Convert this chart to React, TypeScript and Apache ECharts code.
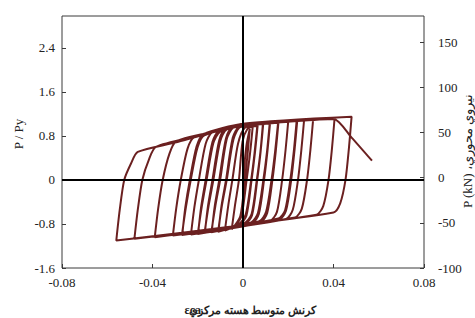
import React, { useEffect, useRef } from "react";
import * as echarts from "echarts";

type Pt = [number, number];

// Axis tick values
const xTicks = [-0.08, -0.04, 0, 0.04, 0.08];
const leftTicks = [-1.6, -0.8, 0, 0.8, 1.6, 2.4];
const rightTicks = [-100, -50, 0, 50, 100, 150];

// Hysteresis path: (average core strain εca, P/Py)
const initialLoading: Pt[] = [[0, 0], [0.0015, 0.62], [0.003, 0.93]];
const unload01: Pt[] = [[0.002, 0.46], [0.0008, 0], [-0.0012, -0.66], [-0.005, -0.9]];
const reload01: Pt[] = [[-0.0035, -0.45], [-0.0018, 0], [-0.0002, 0.7], [0.002, 0.93], [0.0043, 0.97]];
const unload02: Pt[] = [[0.0031, 0.48], [0.0016, 0], [-0.0007, -0.66], [-0.0035, -0.83], [-0.008, -0.92]];
const reload02: Pt[] = [[-0.0065, -0.46], [-0.0047, 0], [-0.0022, 0.66], [0.0008, 0.95], [0.0065, 1.0]];
const unload03: Pt[] = [[0.0053, 0.5], [0.0038, 0], [0.0015, -0.65], [-0.0015, -0.81], [-0.011, -0.94]];
const reload03b: Pt[] = [[-0.0093, -0.46], [-0.0072, 0], [-0.0042, 0.74], [-0.0012, 0.96], [0.0063, 0.98]];
const unload03b: Pt[] = [[0.0051, 0.49], [0.0036, 0], [0.0012, -0.63], [-0.0018, -0.8], [-0.0108, -0.92]];
const reload03: Pt[] = [[-0.0095, -0.47], [-0.0075, 0], [-0.0045, 0.77], [-0.0015, 0.98], [0.009, 1.04]];
const unload04: Pt[] = [[0.0078, 0.52], [0.0063, 0], [0.004, -0.64], [0.001, -0.8], [-0.014, -0.95]];
const reload04b: Pt[] = [[-0.0122, -0.47], [-0.0101, 0], [-0.0072, 0.74], [-0.0042, 0.95], [0.0088, 1.02]];
const unload04b: Pt[] = [[0.0077, 0.51], [0.0061, 0], [0.0038, -0.62], [0.0005, -0.79], [-0.0138, -0.93]];
const reload04: Pt[] = [[-0.0125, -0.48], [-0.0105, 0], [-0.0075, 0.76], [-0.0045, 0.97], [0.012, 1.05]];
const unload05: Pt[] = [[0.0108, 0.52], [0.0093, 0], [0.007, -0.62], [0.004, -0.79], [-0.017, -0.96]];
const reload05b: Pt[] = [[-0.0152, -0.47], [-0.0131, 0], [-0.0101, 0.7], [-0.0071, 0.92], [0.0118, 1.03]];
const unload05b: Pt[] = [[0.0106, 0.51], [0.009, 0], [0.0066, -0.6], [0.0036, -0.77], [-0.0168, -0.94]];
const reload05: Pt[] = [[-0.0155, -0.48], [-0.0135, 0], [-0.0105, 0.72], [-0.0075, 0.94], [0.0157, 1.06]];
const unload06: Pt[] = [[0.0145, 0.53], [0.013, 0], [0.0107, -0.6], [0.0077, -0.77], [-0.02, -0.98]];
const reload06b: Pt[] = [[-0.0182, -0.48], [-0.0161, 0], [-0.0131, 0.67], [-0.0101, 0.88], [0.0, 0.98], [0.0155, 1.04]];
const unload06b: Pt[] = [[0.0142, 0.52], [0.0126, 0], [0.0102, -0.58], [0.0072, -0.75], [-0.0198, -0.96]];
const reload06: Pt[] = [[-0.0185, -0.49], [-0.0165, 0], [-0.0135, 0.69], [-0.0105, 0.9], [0.0, 1.0], [0.02, 1.07]];
const unload07: Pt[] = [[0.0188, 0.54], [0.0173, 0], [0.015, -0.58], [0.012, -0.74], [-0.023, -0.99]];
const reload07: Pt[] = [[-0.0215, -0.5], [-0.0195, 0], [-0.0165, 0.66], [-0.0135, 0.87], [0.0, 1.01], [0.024, 1.09]];
const unload08: Pt[] = [[0.0228, 0.55], [0.0213, 0], [0.019, -0.56], [0.016, -0.72], [-0.027, -1.0]];
const reload08b: Pt[] = [[-0.0252, -0.49], [-0.0231, 0], [-0.0201, 0.59], [-0.0171, 0.81], [0.0, 1.0], [0.0237, 1.07]];
const unload08b: Pt[] = [[0.0225, 0.54], [0.0209, 0], [0.0186, -0.55], [0.0156, -0.7], [-0.0268, -0.98]];
const reload08: Pt[] = [[-0.0255, -0.5], [-0.0235, 0], [-0.0205, 0.61], [-0.0175, 0.83], [0.0, 1.02], [0.027, 1.09]];
const unload09: Pt[] = [[0.0258, 0.55], [0.0243, 0], [0.022, -0.54], [0.019, -0.71], [-0.031, -1.01]];
const reload09: Pt[] = [[-0.0295, -0.51], [-0.0275, 0], [-0.0245, 0.57], [-0.0215, 0.78], [0.0, 1.0], [0.031, 1.1]];
const unload10: Pt[] = [[0.0298, 0.55], [0.0283, 0], [0.026, -0.52], [0.023, -0.68], [-0.039, -1.04]];
const reload10: Pt[] = [[-0.0375, -0.52], [-0.0355, 0], [-0.0325, 0.48], [-0.0295, 0.7], [-0.015, 0.86], [0.0, 1.01], [0.0405, 1.13]];
const unload11: Pt[] = [[0.0393, 0.56], [0.0378, 0], [0.0355, -0.47], [0.0325, -0.63], [-0.048, -1.07]];
const reload11: Pt[] = [[-0.0465, -0.54], [-0.0445, 0], [-0.0415, 0.38], [-0.0385, 0.6], [-0.02, 0.8], [0.0, 1.02], [0.048, 1.15]];
const unload12: Pt[] = [[0.0468, 0.57], [0.0453, 0], [0.043, -0.42], [0.04, -0.59], [-0.056, -1.1]];
const finalReload: Pt[] = [[-0.0545, -0.55], [-0.0525, 0], [-0.0495, 0.3], [-0.0465, 0.51], [-0.03, 0.68], [-0.015, 0.85], [0.0, 0.99], [0.02, 1.06], [0.04, 1.11]];
const failureBranch: Pt[] = [[0.048, 0.77], [0.057, 0.35]];

const hysteresisPath: Pt[] = [
  ...initialLoading,
  ...unload01, ...reload01,
  ...unload02, ...reload02,
  ...unload03, ...reload03b, ...unload03b, ...reload03,
  ...unload04, ...reload04b, ...unload04b, ...reload04,
  ...unload05, ...reload05b, ...unload05b, ...reload05,
  ...unload06, ...reload06b, ...unload06b, ...reload06,
  ...unload07, ...reload07,
  ...unload08, ...reload08b, ...unload08b, ...reload08,
  ...unload09, ...reload09,
  ...unload10, ...reload10,
  ...unload11, ...reload11,
  ...unload12, ...finalReload,
  ...failureBranch,
];

// Bottom title "كرنش متوسط هسته مركزي، εca" laid out right to left (εca at the left end)
const xTitlePersian = "كرنش متوسط هسته مركزي";
const xTitleComma = "،";
const xTitleSymbol = "εca";
const leftTitle = "P / Py";
const rightTitle = "\u200EP (kN) ،\u200Eنيروي محوري";

const SERIF = '"Liberation Serif", "DejaVu Serif", serif';

export default function App() {
  const ref = useRef<HTMLDivElement>(null);
  useEffect(() => {
    if (!ref.current) return;
    const chart = echarts.init(ref.current, null, { renderer: "svg" });
    const labelStyle = { color: "#222", fontFamily: SERIF, fontSize: 13 };
    chart.setOption({
      animation: false,
      backgroundColor: "#fff",
      grid: { left: 62, right: 51, top: 16, bottom: 50, show: true, borderColor: "#3a3a3a", borderWidth: 1, backgroundColor: "transparent" },
      xAxis: {
        type: "value",
        min: xTicks[0],
        max: xTicks[xTicks.length - 1],
        interval: xTicks[1] - xTicks[0],
        axisLine: { show: false, onZero: false },
        axisTick: { show: true, inside: true, length: 4, lineStyle: { color: "#3a3a3a" } },
        axisLabel: { ...labelStyle, margin: 8 },
        splitLine: { show: false },
      },
      yAxis: [
        {
          type: "value",
          min: leftTicks[0],
          max: 2.98,
          interval: leftTicks[1] - leftTicks[0],
          axisLine: { show: false, onZero: false },
          axisTick: { show: true, inside: true, length: 4, lineStyle: { color: "#3a3a3a" } },
          axisLabel: { ...labelStyle, margin: 7, showMaxLabel: false },
          splitLine: { show: false },
        },
        {
          type: "value",
          position: "right",
          min: rightTicks[0],
          max: 179,
          interval: rightTicks[1] - rightTicks[0],
          axisLine: { show: false, onZero: false },
          axisTick: { show: true, inside: true, length: 4, lineStyle: { color: "#3a3a3a" } },
          axisLabel: { ...labelStyle, margin: 14, showMaxLabel: false },
          splitLine: { show: false },
        },
      ],
      graphic: [
        {
          type: "text",
          x: 18,
          y: 134,
          rotation: Math.PI / 2,
          style: { text: leftTitle, fill: "#222", font: `13px ${SERIF}`, textAlign: "center", textVerticalAlign: "middle" },
        },
        {
          type: "text",
          x: 467,
          y: 208,
          rotation: Math.PI / 2,
          style: { text: rightTitle, fill: "#222", font: `13px ${SERIF}`, textAlign: "left", textVerticalAlign: "middle" },
        },
        {
          type: "text",
          x: 201,
          y: 310,
          style: { text: xTitleSymbol, fill: "#222", font: `bold 12px ${SERIF}`, textAlign: "right", textVerticalAlign: "middle" },
        },
        {
          type: "text",
          x: 207,
          y: 310,
          style: { text: xTitleComma, fill: "#222", font: `bold 11px ${SERIF}`, textAlign: "center", textVerticalAlign: "middle" },
        },
        {
          type: "text",
          x: 316,
          y: 310,
          style: { text: xTitlePersian, fill: "#222", font: `bold 11px ${SERIF}`, textAlign: "right", textVerticalAlign: "middle" },
        },
      ],
      series: [
        {
          type: "line",
          xAxisIndex: 0,
          yAxisIndex: 0,
          data: hysteresisPath,
          symbol: "none",
          showSymbol: false,
          smooth: 0.25,
          lineStyle: { color: "#6b2020", width: 2 },
          markLine: {
            silent: true,
            symbol: ["none", "none"],
            label: { show: false },
            lineStyle: { color: "#000", width: 2, type: "solid" },
            data: [{ xAxis: 0 }, { yAxis: 0 }],
          },
        },
      ],
    });
    return () => chart.dispose();
  }, []);
  return <div ref={ref} style={{ position: "absolute", left: 0, top: 0, width: 475, height: 318 }} />;
}
